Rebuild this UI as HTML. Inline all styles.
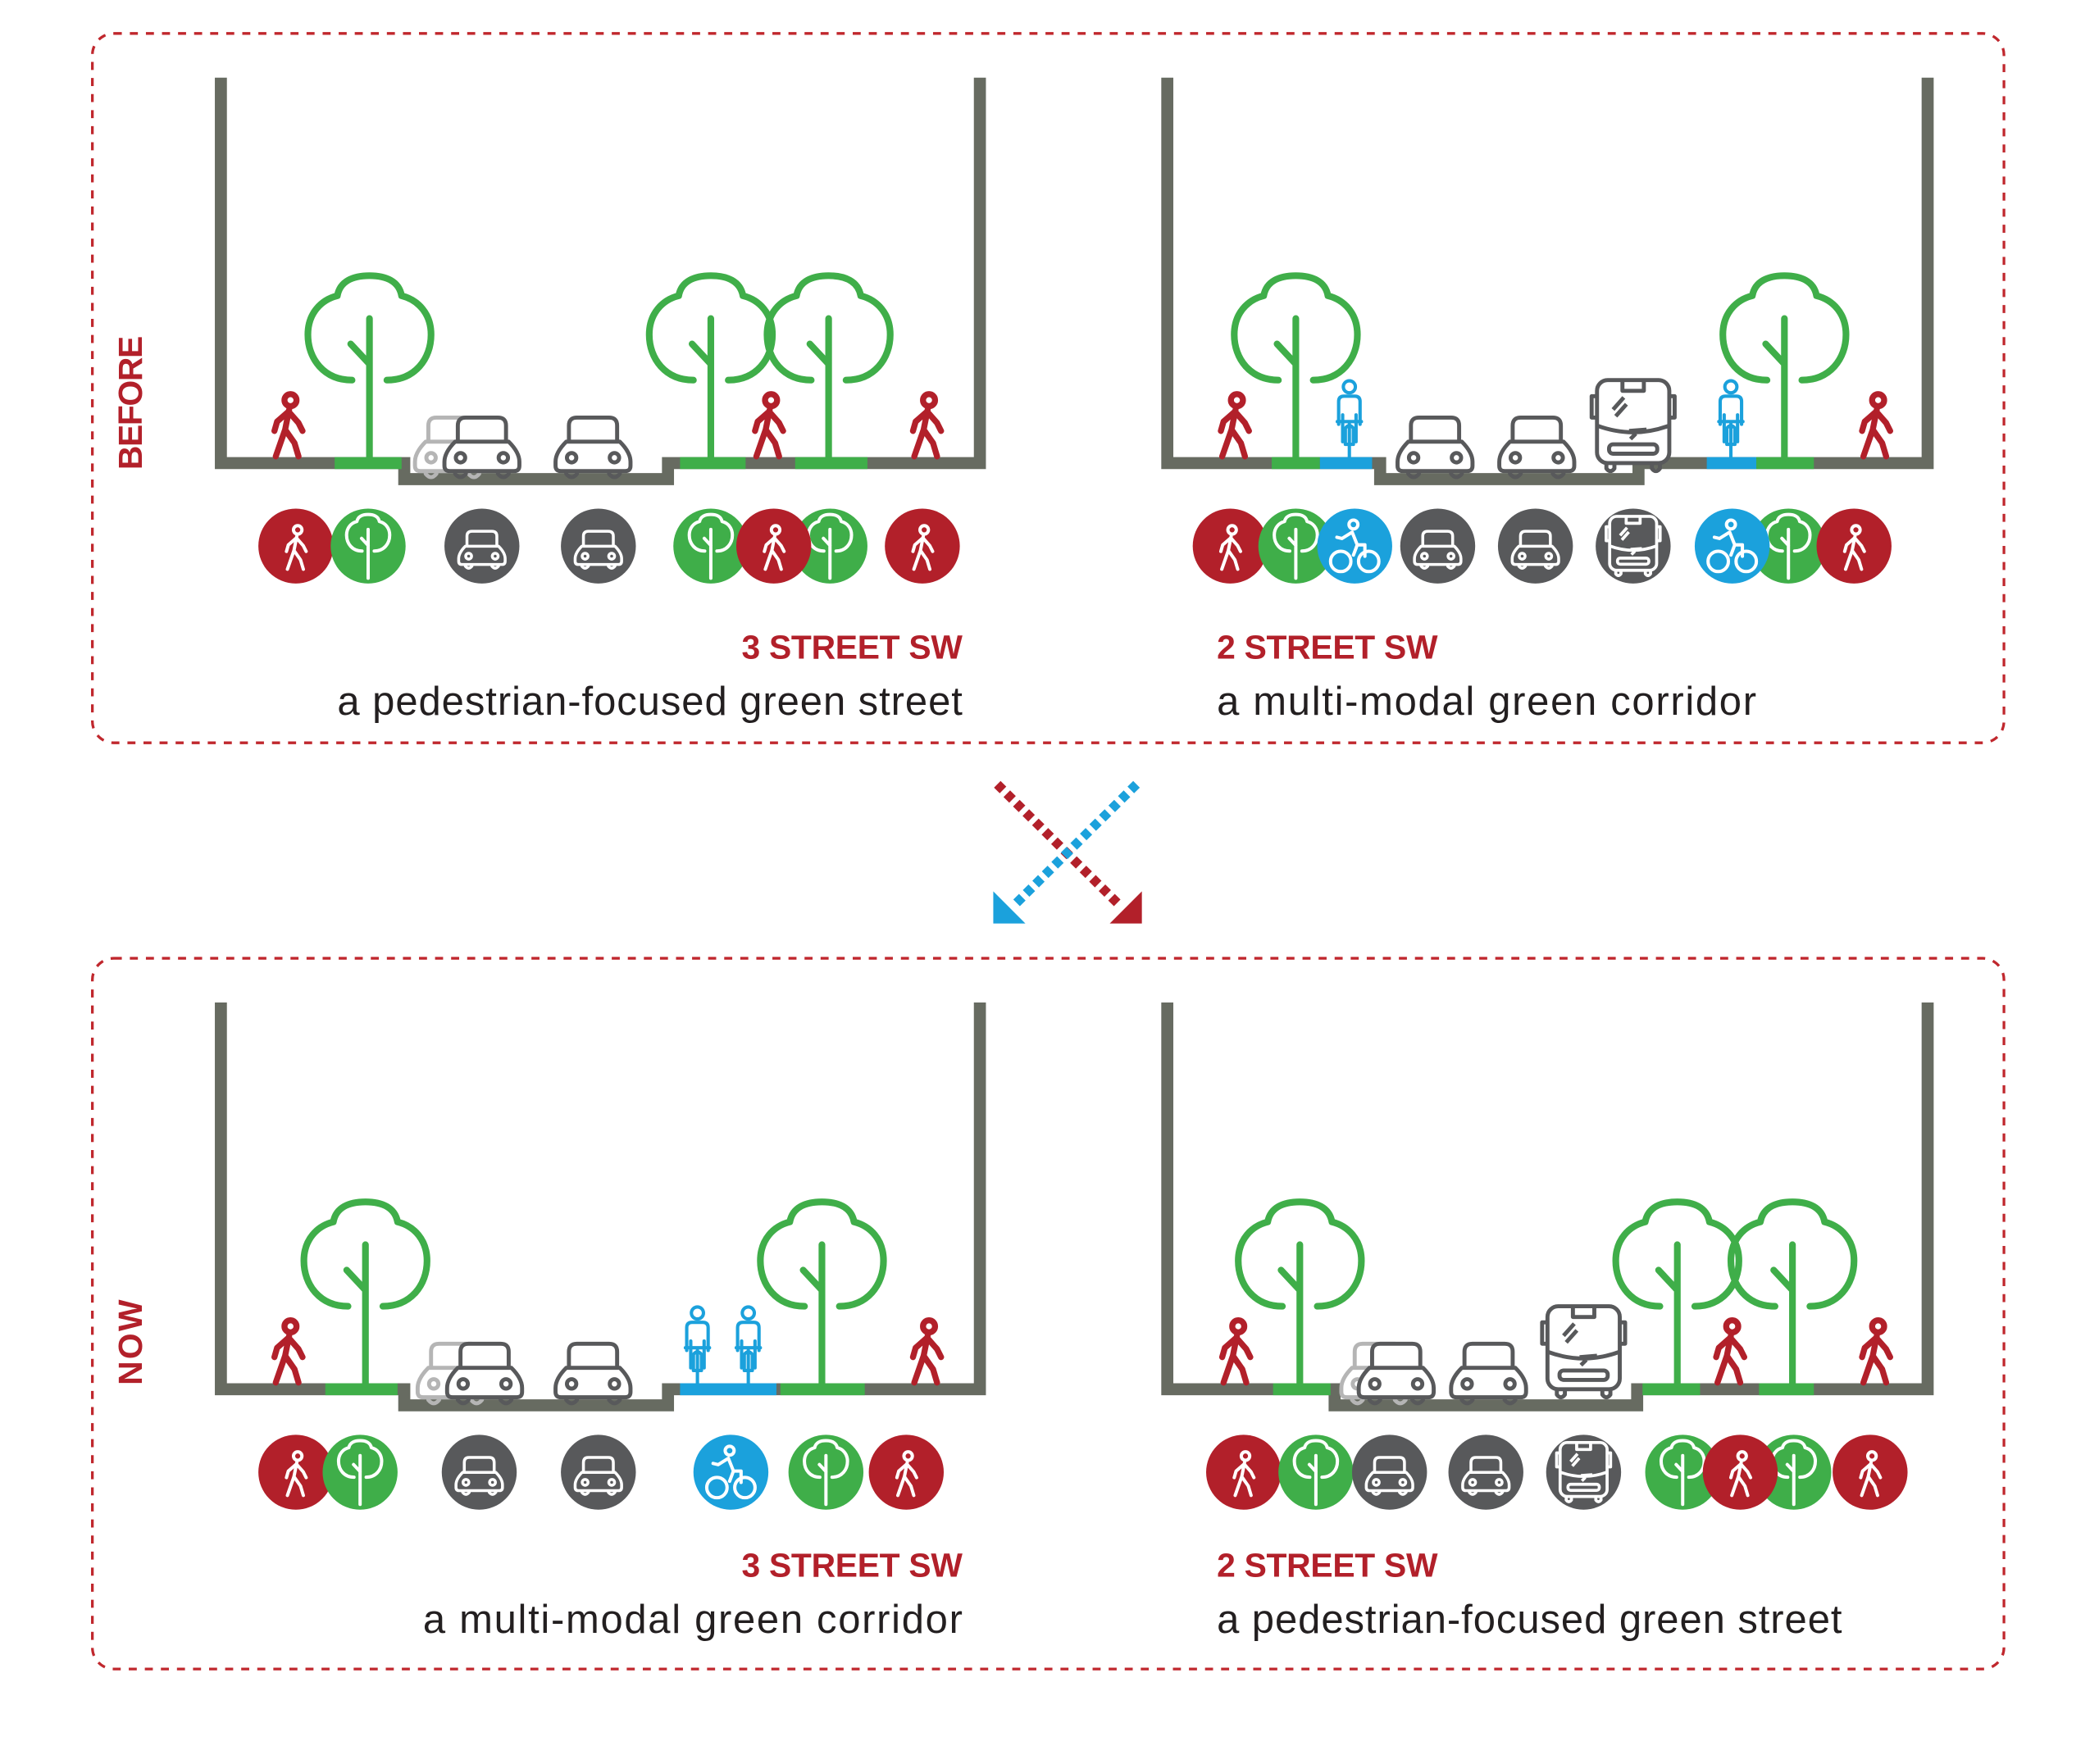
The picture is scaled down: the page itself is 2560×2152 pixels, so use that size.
<!DOCTYPE html>
<html><head><meta charset="utf-8"><style>html,body{margin:0;padding:0;background:#fff}svg{display:block}</style></head>
<body>
<svg width="2560" height="2152" viewBox="0 0 1568 1318" preserveAspectRatio="none" xmlns="http://www.w3.org/2000/svg">
<defs>
<g id="tree" fill="none" stroke-linecap="round" stroke-linejoin="round">
 <path d="M-13,-58 C-34,-58 -46,-74 -46,-92 C-46,-108 -36,-118 -24,-121 C-22,-132 -12,-136 0,-136 C12,-136 22,-132 24,-121 C36,-118 46,-108 46,-92 C46,-74 34,-58 13,-58"/>
 <path d="M0,-104 L0,0 M0,-70 L-14,-85"/>
</g>
<g id="ped" fill="none" stroke-linecap="round" stroke-linejoin="round">
 <circle cx="2" cy="-43" r="4.5"/>
 <path d="M1,-36 L-2,-21 L-9,-1 M-2,-21 L5,-11 L8,-1 M0,-34 L-8,-27 L-10,-20 M1,-34 L8,-26 L11,-20"/>
</g>
<g id="car" stroke-linejoin="round">
 <path d="M-18,-22 L-18,-36 Q-18,-42 -12,-42 L12,-42 Q18,-42 18,-36 L18,-22"/>
 <path d="M-20,-24 L20,-24 Q28,-16 28,-9 L28,-6 Q28,-2 24,-2 L-24,-2 Q-28,-2 -28,-6 L-28,-9 Q-28,-16 -20,-24 Z"/>
 <circle cx="-16" cy="-12" r="3.5"/><circle cx="16" cy="-12" r="3.5"/>
 <path d="M-20,-2 L-20,0 Q-16,5 -12,0 L-12,-2 M20,-2 L20,0 Q16,5 12,0 L12,-2" fill="none"/>
</g>
<g id="bus" stroke-linejoin="round">
 <rect x="-27" y="-68" width="54" height="62" rx="8"/>
 <path d="M-27,-56 L-31,-56 L-31,-40 L-27,-40 M27,-56 L31,-56 L31,-40 L27,-40" fill="none"/>
 <path d="M-8,-68 L-8,-60 L8,-60 L8,-68" fill="none"/>
 <path d="M-27,-34 Q0,-24 27,-34 M-15,-46 L-7,-55 M-13,-41 L-5,-50 M2,-28 L-2,-24 M-3,-30 L10,-31" fill="none"/>
 <rect x="-18" y="-20" width="36" height="7" rx="3" fill="none"/>
 <path d="M-20,-6 L-20,-2 Q-17,2 -14,-2 L-14,-6 M20,-6 L20,-2 Q17,2 14,-2 L14,-6" fill="none"/>
</g>
<g id="cyc" fill="none" stroke-linejoin="round" stroke-linecap="round">
 <circle cx="0" cy="-53" r="4.5"/>
 <path d="M-8,-25 L-8,-42 Q-8,-46 -4,-46 L4,-46 Q8,-46 8,-42 L8,-25 M-5,-32 L-5,-12 M5,-32 L5,-12 M0,-25 L0,0 M-3,-22 Q0,-26 3,-22 L3,-10 L-3,-10 Z M-9,-27 L9,-27"/>
</g>
<g id="bike" fill="none" stroke-linejoin="round" stroke-linecap="round">
 <circle cx="-11" cy="-9" r="8"/><circle cx="11" cy="-9" r="8"/>
 <circle cx="-1" cy="-38" r="3.5"/>
 <path d="M-2,-32 L2,-22 L-1,-14 M-2,-32 L-10,-27 L-14,-28 M2,-22 L8,-22 L8,-13"/>
</g>
</defs>

<rect x="69" y="25" width="1428" height="530" rx="16" fill="none" stroke="#c0272d" stroke-width="2" stroke-dasharray="6 6"/>
<rect x="69" y="716" width="1428" height="531" rx="16" fill="none" stroke="#c0272d" stroke-width="2" stroke-dasharray="6 6"/>

<g font-family="Liberation Sans, sans-serif" fill="#b2202a" font-weight="bold" font-size="25">
 <text transform="translate(106,301) rotate(-90)" text-anchor="middle" textLength="100">BEFORE</text>
 <text transform="translate(106,1003) rotate(-90)" text-anchor="middle" textLength="64">NOW</text>
 <text x="719" y="492" text-anchor="end" textLength="165">3 STREET SW</text>
 <text x="909" y="492" textLength="165">2 STREET SW</text>
 <text x="719" y="1178" text-anchor="end" textLength="165">3 STREET SW</text>
 <text x="909" y="1178" textLength="165">2 STREET SW</text>
</g>
<g font-family="Liberation Sans, sans-serif" fill="#231f20" font-size="30">
 <text x="719" y="534" text-anchor="end" textLength="467">a pedestrian-focused green street</text>
 <text x="909" y="534" textLength="403">a multi-modal green corridor</text>
 <text x="719" y="1220" text-anchor="end" textLength="403">a multi-modal green corridor</text>
 <text x="909" y="1220" textLength="467">a pedestrian-focused green street</text>
</g>

<line x1="745" y1="586" x2="836" y2="676" stroke="#b2202a" stroke-width="7" stroke-dasharray="6 4"/>
<polygon points="853,666 853,690 829,690" fill="#b2202a"/>
<line x1="849" y1="586" x2="758" y2="676" stroke="#1ba1dc" stroke-width="7" stroke-dasharray="6 4"/>
<polygon points="742,666 742,690 766,690" fill="#1ba1dc"/>

<g fill="none" stroke="#676b61" stroke-width="9">
 <path d="M165,58 L165,346 L302,346 L302,358 L499,358 L499,346 L732,346 L732,58"/>
 <path d="M872,58 L872,346 L1031,346 L1031,358 L1224,358 L1224,346 L1440,346 L1440,58"/>
 <path d="M165,749 L165,1038 L302,1038 L302,1050 L499,1050 L499,1038 L732,1038 L732,749"/>
 <path d="M872,749 L872,1038 L997,1038 L997,1050 L1223,1050 L1223,1038 L1440,1038 L1440,749"/>
</g>
<g stroke-width="9">
 <line x1="250" y1="346" x2="300" y2="346" stroke="#3fae49"/>
 <line x1="508" y1="346" x2="557" y2="346" stroke="#3fae49"/>
 <line x1="594" y1="346" x2="648" y2="346" stroke="#3fae49"/>
 <line x1="950" y1="346" x2="986" y2="346" stroke="#3fae49"/>
 <line x1="986" y1="346" x2="1025" y2="346" stroke="#1ba1dc"/>
 <line x1="1275" y1="346" x2="1312" y2="346" stroke="#1ba1dc"/>
 <line x1="1312" y1="346" x2="1355" y2="346" stroke="#3fae49"/>
 <line x1="243" y1="1038" x2="297" y2="1038" stroke="#3fae49"/>
 <line x1="508" y1="1038" x2="580" y2="1038" stroke="#1ba1dc"/>
 <line x1="583" y1="1038" x2="646" y2="1038" stroke="#3fae49"/>
 <line x1="951" y1="1038" x2="994" y2="1038" stroke="#3fae49"/>
 <line x1="1227" y1="1038" x2="1270" y2="1038" stroke="#3fae49"/>
 <line x1="1314" y1="1038" x2="1355" y2="1038" stroke="#3fae49"/>
</g>

<g stroke="#3fae49" stroke-width="5">
 <use href="#tree" transform="translate(276,342)"/>
 <use href="#tree" transform="translate(531,342)"/>
 <use href="#tree" transform="translate(619,342)"/>
 <use href="#tree" transform="translate(968,342)"/>
 <use href="#tree" transform="translate(1333,342)"/>
 <use href="#tree" transform="translate(273,1034)"/>
 <use href="#tree" transform="translate(614,1034)"/>
 <use href="#tree" transform="translate(971,1034)"/>
 <use href="#tree" transform="translate(1253,1034)"/>
 <use href="#tree" transform="translate(1339,1034)"/>
</g>
<g stroke="#b2202a" stroke-width="4.5">
 <use href="#ped" transform="translate(215,342)"/>
 <use href="#ped" transform="translate(574,342)"/>
 <use href="#ped" transform="translate(692,342)"/>
 <use href="#ped" transform="translate(922,342)"/>
 <use href="#ped" transform="translate(1401,342)"/>
 <use href="#ped" transform="translate(215,1034)"/>
 <use href="#ped" transform="translate(692,1034)"/>
 <use href="#ped" transform="translate(923,1034)"/>
 <use href="#ped" transform="translate(1292,1034)"/>
 <use href="#ped" transform="translate(1401,1034)"/>
</g>
<g stroke="#1ba1dc" stroke-width="2.5">
 <use href="#cyc" transform="translate(1008,342)"/>
 <use href="#cyc" transform="translate(1293,342)"/>
 <use href="#cyc" transform="translate(521,1034)"/>
 <use href="#cyc" transform="translate(559,1034)"/>
</g>
<g fill="#fff" stroke="#b5b5b5" stroke-width="3">
 <use href="#car" transform="translate(338,354)"/>
 <use href="#car" transform="translate(340,1046)"/>
 <use href="#car" transform="translate(1030,1046)"/>
</g>
<g fill="#fff" stroke="#58595b" stroke-width="3">
 <use href="#car" transform="translate(360,354)"/>
 <use href="#car" transform="translate(443,354)"/>
 <use href="#car" transform="translate(1072,354)"/>
 <use href="#car" transform="translate(1148,354)"/>
 <use href="#bus" transform="translate(1220,352)"/>
 <use href="#car" transform="translate(362,1046)"/>
 <use href="#car" transform="translate(443,1046)"/>
 <use href="#car" transform="translate(1043,1046)"/>
 <use href="#car" transform="translate(1112,1046)"/>
 <use href="#bus" transform="translate(1183,1044)"/>
</g>

<g>
 <circle cx="221" cy="408" r="28" fill="#b2202a"/><use href="#ped" transform="translate(221,426) scale(0.7)" stroke="#fff" stroke-width="3.5"/>
 <circle cx="275" cy="408" r="28" fill="#3fae49"/><use href="#tree" transform="translate(275,432) scale(0.35)" stroke="#fff" stroke-width="7"/>
 <circle cx="360" cy="408" r="28" fill="#58595b"/><use href="#car" transform="translate(360,423) scale(0.62)" fill="#58595b" stroke="#fff" stroke-width="3.5"/>
 <circle cx="447" cy="408" r="28" fill="#58595b"/><use href="#car" transform="translate(447,423) scale(0.62)" fill="#58595b" stroke="#fff" stroke-width="3.5"/>
 <circle cx="531" cy="408" r="28" fill="#3fae49"/><use href="#tree" transform="translate(531,432) scale(0.35)" stroke="#fff" stroke-width="7"/>
 <circle cx="620" cy="408" r="28" fill="#3fae49"/><use href="#tree" transform="translate(620,432) scale(0.35)" stroke="#fff" stroke-width="7"/>
 <circle cx="578" cy="408" r="28" fill="#b2202a"/><use href="#ped" transform="translate(578,426) scale(0.7)" stroke="#fff" stroke-width="3.5"/>
 <circle cx="689" cy="408" r="28" fill="#b2202a"/><use href="#ped" transform="translate(689,426) scale(0.7)" stroke="#fff" stroke-width="3.5"/>
</g>
<g>
 <circle cx="919" cy="408" r="28" fill="#b2202a"/><use href="#ped" transform="translate(919,426) scale(0.7)" stroke="#fff" stroke-width="3.5"/>
 <circle cx="968" cy="408" r="28" fill="#3fae49"/><use href="#tree" transform="translate(968,432) scale(0.35)" stroke="#fff" stroke-width="7"/>
 <circle cx="1012" cy="408" r="28" fill="#1ba1dc"/><use href="#bike" transform="translate(1012,428) scale(0.95)" stroke="#fff" stroke-width="2.6"/>
 <circle cx="1074" cy="408" r="28" fill="#58595b"/><use href="#car" transform="translate(1074,423) scale(0.62)" fill="#58595b" stroke="#fff" stroke-width="3.5"/>
 <circle cx="1147" cy="408" r="28" fill="#58595b"/><use href="#car" transform="translate(1147,423) scale(0.62)" fill="#58595b" stroke="#fff" stroke-width="3.5"/>
 <circle cx="1220" cy="408" r="28" fill="#58595b"/><use href="#bus" transform="translate(1220,430) scale(0.65)" fill="#58595b" stroke="#fff" stroke-width="3.5"/>
 <circle cx="1336" cy="408" r="28" fill="#3fae49"/><use href="#tree" transform="translate(1336,432) scale(0.35)" stroke="#fff" stroke-width="7"/>
 <circle cx="1294" cy="408" r="28" fill="#1ba1dc"/><use href="#bike" transform="translate(1294,428) scale(0.95)" stroke="#fff" stroke-width="2.6"/>
 <circle cx="1385" cy="408" r="28" fill="#b2202a"/><use href="#ped" transform="translate(1385,426) scale(0.7)" stroke="#fff" stroke-width="3.5"/>
</g>
<g>
 <circle cx="221" cy="1100" r="28" fill="#b2202a"/><use href="#ped" transform="translate(221,1118) scale(0.7)" stroke="#fff" stroke-width="3.5"/>
 <circle cx="269" cy="1100" r="28" fill="#3fae49"/><use href="#tree" transform="translate(269,1124) scale(0.35)" stroke="#fff" stroke-width="7"/>
 <circle cx="358" cy="1100" r="28" fill="#58595b"/><use href="#car" transform="translate(358,1115) scale(0.62)" fill="#58595b" stroke="#fff" stroke-width="3.5"/>
 <circle cx="447" cy="1100" r="28" fill="#58595b"/><use href="#car" transform="translate(447,1115) scale(0.62)" fill="#58595b" stroke="#fff" stroke-width="3.5"/>
 <circle cx="546" cy="1100" r="28" fill="#1ba1dc"/><use href="#bike" transform="translate(546,1120) scale(0.95)" stroke="#fff" stroke-width="2.6"/>
 <circle cx="617" cy="1100" r="28" fill="#3fae49"/><use href="#tree" transform="translate(617,1124) scale(0.35)" stroke="#fff" stroke-width="7"/>
 <circle cx="677" cy="1100" r="28" fill="#b2202a"/><use href="#ped" transform="translate(677,1118) scale(0.7)" stroke="#fff" stroke-width="3.5"/>
</g>
<g>
 <circle cx="929" cy="1100" r="28" fill="#b2202a"/><use href="#ped" transform="translate(929,1118) scale(0.7)" stroke="#fff" stroke-width="3.5"/>
 <circle cx="983" cy="1100" r="28" fill="#3fae49"/><use href="#tree" transform="translate(983,1124) scale(0.35)" stroke="#fff" stroke-width="7"/>
 <circle cx="1038" cy="1100" r="28" fill="#58595b"/><use href="#car" transform="translate(1038,1115) scale(0.62)" fill="#58595b" stroke="#fff" stroke-width="3.5"/>
 <circle cx="1110" cy="1100" r="28" fill="#58595b"/><use href="#car" transform="translate(1110,1115) scale(0.62)" fill="#58595b" stroke="#fff" stroke-width="3.5"/>
 <circle cx="1183" cy="1100" r="28" fill="#58595b"/><use href="#bus" transform="translate(1183,1122) scale(0.65)" fill="#58595b" stroke="#fff" stroke-width="3.5"/>
 <circle cx="1257" cy="1100" r="28" fill="#3fae49"/><use href="#tree" transform="translate(1257,1124) scale(0.35)" stroke="#fff" stroke-width="7"/>
 <circle cx="1340" cy="1100" r="28" fill="#3fae49"/><use href="#tree" transform="translate(1340,1124) scale(0.35)" stroke="#fff" stroke-width="7"/>
 <circle cx="1300" cy="1100" r="28" fill="#b2202a"/><use href="#ped" transform="translate(1300,1118) scale(0.7)" stroke="#fff" stroke-width="3.5"/>
 <circle cx="1397" cy="1100" r="28" fill="#b2202a"/><use href="#ped" transform="translate(1397,1118) scale(0.7)" stroke="#fff" stroke-width="3.5"/>
</g>
</svg>
</body></html>
